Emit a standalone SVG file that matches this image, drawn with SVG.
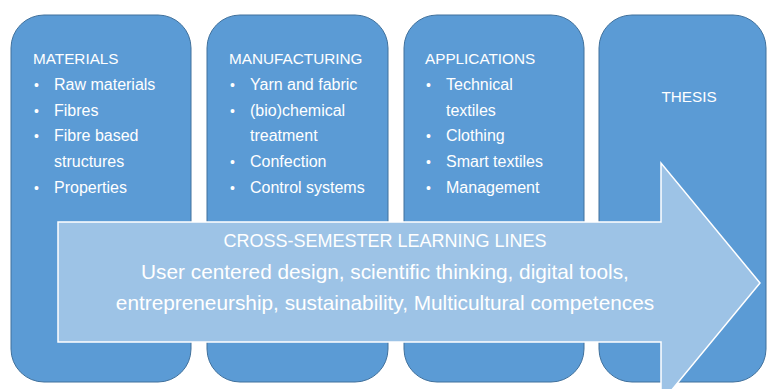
<svg xmlns="http://www.w3.org/2000/svg" width="767" height="389" viewBox="0 0 767 389">
<style>
.box{fill:#5B9BD5;stroke:#41719C;stroke-width:1}
.arrow{fill:#9DC3E6;stroke:#FFFFFF;stroke-width:1.5}
text{font-family:"Liberation Sans",Arial,sans-serif;fill:#FFFFFF}
.h{font-size:15.3px}
.t{font-size:16px}
.b{font-size:14px}
.a{font-size:18px;text-anchor:middle}
.l{font-size:20.8px;text-anchor:middle}
</style>
<rect width="767" height="389" fill="#FFFFFF"/>
<g id="materials">
<rect class="box" x="11" y="15" width="180" height="367" rx="33" ry="33"/>
<text class="h" x="33" y="64">MATERIALS</text>
<text class="b" x="34" y="90">•</text><text class="t" x="54" y="90">Raw materials</text>
<text class="b" x="34" y="115.5">•</text><text class="t" x="54" y="115.5">Fibres</text>
<text class="b" x="34" y="141">•</text><text class="t" x="54" y="141">Fibre based</text>
<text class="t" x="54" y="167">structures</text>
<text class="b" x="34" y="192.5">•</text><text class="t" x="54" y="192.5">Properties</text>
</g>
<g id="manufacturing">
<rect class="box" x="207" y="15" width="181" height="367" rx="33" ry="33"/>
<text class="h" x="229" y="64">MANUFACTURING</text>
<text class="b" x="230" y="90">•</text><text class="t" x="250" y="90">Yarn and fabric</text>
<text class="b" x="230" y="115.5">•</text><text class="t" x="250" y="115.5">(bio)chemical</text>
<text class="t" x="250" y="141">treatment</text>
<text class="b" x="230" y="167">•</text><text class="t" x="250" y="167">Confection</text>
<text class="b" x="230" y="192.5">•</text><text class="t" x="250" y="192.5">Control systems</text>
</g>
<g id="applications">
<rect class="box" x="404" y="15" width="180" height="367" rx="33" ry="33"/>
<text class="h" x="425" y="64">APPLICATIONS</text>
<text class="b" x="426" y="90">•</text><text class="t" x="446" y="90">Technical</text>
<text class="t" x="446" y="115.5">textiles</text>
<text class="b" x="426" y="141">•</text><text class="t" x="446" y="141">Clothing</text>
<text class="b" x="426" y="167">•</text><text class="t" x="446" y="167">Smart textiles</text>
<text class="b" x="426" y="192.5">•</text><text class="t" x="446" y="192.5">Management</text>
</g>
<g id="thesis">
<rect class="box" x="599" y="15" width="167" height="367" rx="33" ry="33"/>
<text class="h" x="689" y="102" text-anchor="middle">THESIS</text>
</g>
<g id="learning-lines">
<polygon class="arrow" points="58,222 661,222 661,163 760,283 661,403 661,342 58,342"/>
<text class="a" x="385" y="247">CROSS-SEMESTER LEARNING LINES</text>
<text class="l" x="385" y="279">User centered design, scientific thinking, digital tools,</text>
<text class="l" x="385" y="310">entrepreneurship, sustainability, Multicultural competences</text>
</g>
<g id="connectors"/>
</svg>
